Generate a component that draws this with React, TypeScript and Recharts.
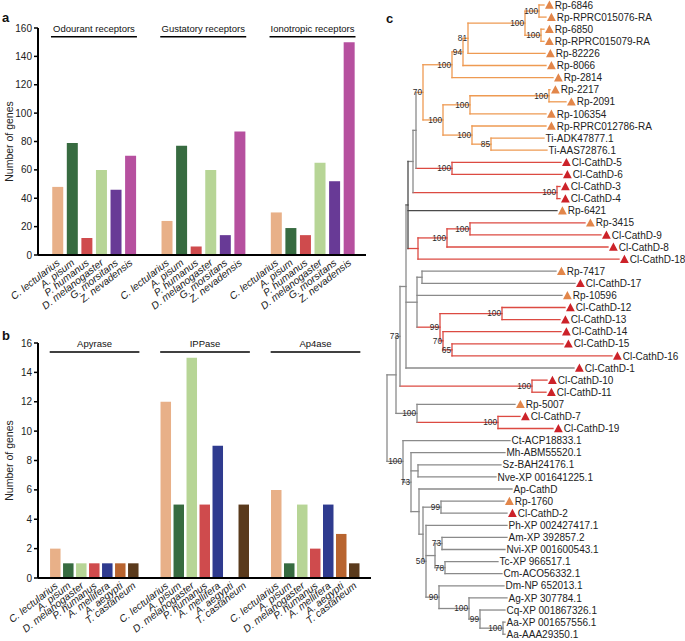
import React from 'react';
import { BarChart, Bar, XAxis, YAxis, Cell, ReferenceLine, ScatterChart, Scatter } from 'recharts';

const FONT = '"Liberation Sans", Arial, Helvetica, sans-serif';

// ---------- Panel a ----------
const speciesA = ['C. lectularius', 'A. pisum', 'P. humanus', 'D. melanogaster', 'G. morsitans', 'Z. nevadensis'];
const groupsA = ['Odourant receptors', 'Gustatory receptors', 'Ionotropic receptors'];
const odourantReceptors = [48, 79, 12, 60, 46, 70];
const gustatoryReceptors = [24, 77, 6, 60, 14, 87];
const ionotropicReceptors = [30, 19, 14, 65, 52, 150];
const ticksA = [0, 20, 40, 60, 80, 100, 120, 140, 160];

// ---------- Panel b ----------
const speciesB = ['C. lectularius', 'A. pisum', 'D. melanogaster', 'P. humanus', 'A. mellifera', 'A. aegypti', 'T. castaneum'];
const groupsB = ['Apyrase', 'IPPase', 'Ap4ase'];
const apyrase = [2, 1, 1, 1, 1, 1, 1];
const ippase = [12, 5, 15, 5, 9, 0, 5];
const ap4ase = [6, 1, 5, 2, 5, 3, 1];
const ticksB = [0, 2, 4, 6, 8, 10, 12, 14, 16];

const speciesColors: Record<string, string> = {
  'C. lectularius': '#e8b088',
  'A. pisum': '#376b40',
  'P. humanus': '#cf4b4d',
  'D. melanogaster': '#b7d596',
  'G. morsitans': '#683a96',
  'Z. nevadensis': '#b6509f',
  'A. mellifera': '#2f3b8f',
  'A. aegypti': '#b8642f',
  'T. castaneum': '#5a3a1c',
};

// ---------- Panel c (tree) ----------
const leafNames = [
  'Rp-6846', 'Rp-RPRC015076-RA', 'Rp-6850', 'Rp-RPRC015079-RA', 'Rp-82226', 'Rp-8066', 'Rp-2814',
  'Rp-2217', 'Rp-2091', 'Rp-106354', 'Rp-RPRC012786-RA', 'Ti-ADK47877.1', 'Ti-AAS72876.1',
  'Cl-CathD-5', 'Cl-CathD-6', 'Cl-CathD-3', 'Cl-CathD-4', 'Rp-6421', 'Rp-3415', 'Cl-CathD-9',
  'Cl-CathD-8', 'Cl-CathD-18', 'Rp-7417', 'Cl-CathD-17', 'Rp-10596', 'Cl-CathD-12', 'Cl-CathD-13',
  'Cl-CathD-14', 'Cl-CathD-15', 'Cl-CathD-16', 'Cl-CathD-1', 'Cl-CathD-10', 'Cl-CathD-11',
  'Rp-5007', 'Cl-CathD-7', 'Cl-CathD-19', 'Ct-ACP18833.1', 'Mh-ABM55520.1', 'Sz-BAH24176.1',
  'Nve-XP 001641225.1', 'Ap-CathD', 'Rp-1760', 'Cl-CathD-2', 'Ph-XP 002427417.1', 'Am-XP 392857.2',
  'Nvi-XP 001600543.1', 'Tc-XP 966517.1', 'Cm-ACO56332.1', 'Dm-NP 652013.1', 'Ag-XP 307784.1',
  'Cq-XP 001867326.1', 'Aa-XP 001657556.1', 'Aa-AAA29350.1',
];
// depth (tip position) of every leaf
const leafDepth = [
  544, 546, 544, 544, 545, 546, 553, 550, 566, 546, 546, 544, 547,
  561, 562, 560, 560, 557, 585, 601, 608, 619, 556, 575, 562, 565, 560,
  561, 563, 612, 574, 547, 546, 515, 520, 553, 510, 505, 501,
  496, 512, 504, 507, 507, 507, 505, 498, 502, 504, 507,
  505, 505, 505,
];
// internal nodes: id, depth, children (leaf index or node id), bootstrap support
const treeNodes: [string, number, (string | number)[], string][] = [
  ['nA', 539, [0, 1], '100'],
  ['nB', 541, [2, 3], '100'],
  ['nC', 525, ['nA', 'nB'], '100'],
  ['nD', 468, ['nC', 4], '81'],
  ['nE', 463, ['nD', 5], '94'],
  ['nF', 452, ['nE', 6], '100'],
  ['nG', 549, [7, 8], '100'],
  ['nH', 470, ['nG', 9], '100'],
  ['nI', 491, [11, 12], '85'],
  ['nJ', 472, [10, 'nI'], '100'],
  ['nK', 443, ['nH', 'nJ'], '100'],
  ['nL', 423, ['nF', 'nK'], '70'],
  ['nM', 452, [13, 14], '100'],
  ['nN', 416, ['nL', 'nM'], ''],
  ['nO', 557, [15, 16], '100'],
  ['nP', 413, ['nN', 'nO'], ''],
  ['nQ', 470, [18, 19], '100'],
  ['nR', 447, ['nQ', 20], '100'],
  ['nS', 418, ['nR', 21], ''],
  ['nT', 408, ['nP', 17, 'nS'], ''],
  ['nU', 422, [22, 23], ''],
  ['nV', 502, [25, 26], '100'],
  ['nW', 452, [28, 29], '65'],
  ['nX', 443, [27, 'nW'], '70'],
  ['nY', 440, ['nV', 'nX'], '99'],
  ['nZ', 417, ['nU', 24, 'nY'], ''],
  ['n1', 406, ['nT', 'nZ', 30], ''],
  ['n2', 532, [31, 32], '100'],
  ['n3', 400, ['n1', 'n2'], '73'],
  ['n4', 498, [34, 35], '100'],
  ['n5', 417, [33, 'n4'], '100'],
  ['n6', 396, ['n3', 'n5'], ''],
  ['m1', 418, [38, 39], ''],
  ['m2', 441, [41, 42], '99'],
  ['m3', 442, [44, 45], '73'],
  ['m4', 445, [46, 47], '78'],
  ['m5', 435, ['m3', 'm4'], ''],
  ['m6', 503, [51, 52], '100'],
  ['m7', 480, [50, 'm6'], '99'],
  ['m8', 469, [49, 'm7'], '100'],
  ['m9', 439, [48, 'm8'], '90'],
  ['m10', 426, [43, 'm5', 'm9'], '50'],
  ['m11', 423, ['m2', 'm10'], ''],
  ['m12', 419, [40, 'm11'], ''],
  ['m13', 411, [37, 'm1', 'm12'], '73'],
  ['m14', 403, [36, 'm13'], '100'],
  ['root', 387, ['n6', 'm14'], ''],
];
// clade colouring (inherited by descendants)
const cladeColour: Record<string, string> = {
  root: 'g', nL: 'o', nM: 'r', nO: 'r', nS: 'r', nY: 'r', n2: 'r', n4: 'r', nT: 'd', nP: 'g', L17: 'd',
};

const LINE: Record<string, string> = { o: '#ee9a52', r: '#dc4a42', g: '#8a8a8a', d: '#4a4a4a' };
const TRI_ORANGE = '#e2864a';
const TRI_RED = '#cc2229';

type Seg = { x1: number; y1: number; x2: number; y2: number; c: string };

function layoutTree() {
  const nodeMap = new Map(treeNodes.map((n) => [n[0], n]));
  const segs: Seg[] = [];
  const supports: { x: number; y: number; label: string }[] = [];
  const tips: { x: number; y: number; name: string }[] = [];
  const walk = (ref: string | number, parentX: number | null, parentColor: string): number => {
    if (typeof ref === 'number') {
      const col = cladeColour['L' + ref] ?? parentColor;
      if (parentX !== null) segs.push({ x1: parentX, y1: ref, x2: leafDepth[ref], y2: ref, c: col });
      tips.push({ x: leafDepth[ref], y: ref, name: leafNames[ref] });
      return ref;
    }
    const node = nodeMap.get(ref)!;
    const [id, x, children, support] = node;
    const col = cladeColour[id] ?? parentColor;
    const ys = children.map((ch) => walk(ch, x, col));
    const y = (ys[0] + ys[ys.length - 1]) / 2;
    segs.push({ x1: x, y1: ys[0], x2: x, y2: ys[ys.length - 1], c: col });
    if (parentX !== null) segs.push({ x1: parentX, y1: y, x2: x, y2: y, c: col });
    if (support) supports.push({ x, y, label: support });
    return y;
  };
  walk('root', null, 'g');
  return { segs, supports, tips };
}

function buildRows(species: string[], groups: string[], series: number[][]) {
  const step = species.length + 1.5;
  const rows: { x: number; value: number; species: string; group: string }[] = [];
  series.forEach((vals, g) =>
    vals.forEach((v, i) => rows.push({ x: g * step + i, value: v, species: species[i], group: groups[g] }))
  );
  return { rows, step };
}

const SpeciesTick = (props: any) => {
  const { x, y, payload, names } = props;
  const name = names.get(payload.value) ?? '';
  const tx = x + 3;
  const ty = y + 7;
  return (
    <text x={tx} y={ty} transform={`rotate(-38 ${tx} ${ty})`} textAnchor="end" fontSize={10.2}
      fontStyle="italic" fontFamily={FONT} fill="#1a1a1a">{name}</text>
  );
};

function GroupedBars(props: {
  species: string[]; groups: string[]; series: number[][]; yTicks: number[]; yMax: number;
  width: number; height: number; top: number; marginTop: number; xAxisHeight: number;
  barSize: number; domainPad: [number, number]; headerY: number;
}) {
  const { species, groups, series, yTicks, yMax, width, height, top, marginTop, xAxisHeight, barSize, domainPad, headerY } = props;
  const { rows, step } = buildRows(species, groups, series);
  const names = new Map(rows.map((r) => [r.x, r.species]));
  const lastX = (groups.length - 1) * step + species.length - 1;
  return (
    <div style={{ position: 'absolute', left: 0, top }}>
      <BarChart width={width} height={height} data={rows} margin={{ top: marginTop, right: 4, left: 0, bottom: 0 }}>
        <XAxis type="number" dataKey="x" domain={[-domainPad[0], lastX + domainPad[1]]} ticks={rows.map((r) => r.x)}
          interval={0} tickLine={false} tickSize={0} tickMargin={2} height={xAxisHeight}
          axisLine={{ stroke: '#000', strokeWidth: 2 }} allowDataOverflow
          tick={(p: any) => <SpeciesTick {...p} names={names} />} />
        <YAxis type="number" domain={[0, yMax]} ticks={yTicks} width={38} tickSize={4} tickMargin={2}
          axisLine={{ stroke: '#000', strokeWidth: 2 }} tickLine={{ stroke: '#000', strokeWidth: 1.5 }}
          tick={{ fontSize: 10, fill: '#222', fontFamily: FONT }}
          label={(lp: any) => {
            const vb = lp.viewBox || { x: 0, y: marginTop, width: 38, height: height - marginTop - xAxisHeight };
            const cx = vb.x + 9;
            const cy = vb.y + vb.height / 2;
            return (
              <text x={cx} y={cy} transform={`rotate(-90 ${cx} ${cy})`} textAnchor="middle" dominantBaseline="central"
                fontSize={10.5} fontFamily={FONT} fill="#222">Number of genes</text>
            );
          }} />
        {groups.map((g, gi) => (
          <ReferenceLine key={g} ifOverflow="visible"
            segment={[{ x: gi * step - 0.45, y: headerY }, { x: gi * step + species.length - 1 + 0.45, y: headerY }]}
            stroke="#000" strokeWidth={1.4}
            label={{ value: g, position: 'top', offset: 5, fontSize: 9.5, fill: '#111', fontFamily: FONT }} />
        ))}
        <Bar dataKey="value" barSize={barSize} isAnimationActive={false}>
          {rows.map((r, i) => <Cell key={i} fill={speciesColors[r.species]} />)}
        </Bar>
      </BarChart>
    </div>
  );
}

function Tree() {
  const { segs, supports, tips } = layoutTree();
  return (
    <div style={{ position: 'absolute', left: 340, top: 0 }}>
      <ScatterChart width={345} height={641} margin={{ top: 0, right: 0, bottom: 0, left: 0 }}>
        <XAxis type="number" dataKey="x" domain={[340, 685]} hide allowDataOverflow />
        <YAxis type="number" dataKey="y" domain={[-0.413, 52.56]} reversed hide allowDataOverflow />
        {segs.map((s, i) => (
          <ReferenceLine key={i} ifOverflow="visible" segment={[{ x: s.x1, y: s.y1 }, { x: s.x2, y: s.y2 }]}
            stroke={LINE[s.c]} strokeWidth={1.3} strokeLinecap="square" />
        ))}
        <Scatter data={tips} isAnimationActive={false}
          shape={(p: any) => {
            const { cx, cy, payload } = p;
            const name: string = payload.name;
            const tri = name.startsWith('Rp-') ? TRI_ORANGE : name.startsWith('Cl-') ? TRI_RED : null;
            return (
              <g>
                {tri && <polygon points={`${cx + 1},${cy + 3.8} ${cx + 9.8},${cy + 3.8} ${cx + 5.4},${cy - 4.4}`} fill={tri} />}
                <text x={tri ? cx + 10.8 : cx + 1.5} y={cy} dy="0.36em" fontSize={10} fontFamily={FONT} fill="#222">{name}</text>
              </g>
            );
          }} />
        <Scatter data={supports} isAnimationActive={false}
          shape={(p: any) => (
            <text x={p.cx - 1} y={p.cy} dy="0.35em" textAnchor="end" fontSize={8.3} fontFamily={FONT} fill="#2a2a2a">{p.payload.label}</text>
          )} />
      </ScatterChart>
    </div>
  );
}

const letterStyle: React.CSSProperties = { position: 'absolute', fontFamily: FONT, fontWeight: 'bold', fontSize: 13, lineHeight: '13px', color: '#111' };

export default function App() {
  return (
    <div style={{ position: 'absolute', left: 0, top: 0, width: 685, height: 641, background: '#fff', overflow: 'hidden' }}>
      <GroupedBars species={speciesA} groups={groupsA} series={[odourantReceptors, gustatoryReceptors, ionotropicReceptors]}
        yTicks={ticksA} yMax={160} width={370} height={330} top={0} marginTop={28} xAxisHeight={75}
        barSize={11} domainPad={[1.34, 1.17]} headerY={153.8} />
      <GroupedBars species={speciesB} groups={groupsB} series={[apyrase, ippase, ap4ase]}
        yTicks={ticksB} yMax={16} width={375} height={341} top={300} marginTop={43} xAxisHeight={63}
        barSize={10.5} domainPad={[1.35, 1.27]} headerY={15.39} />
      <Tree />
      <div style={{ ...letterStyle, left: 2, top: 11 }}>a</div>
      <div style={{ ...letterStyle, left: 2, top: 329 }}>b</div>
      <div style={{ ...letterStyle, left: 386, top: 12 }}>c</div>
    </div>
  );
}
